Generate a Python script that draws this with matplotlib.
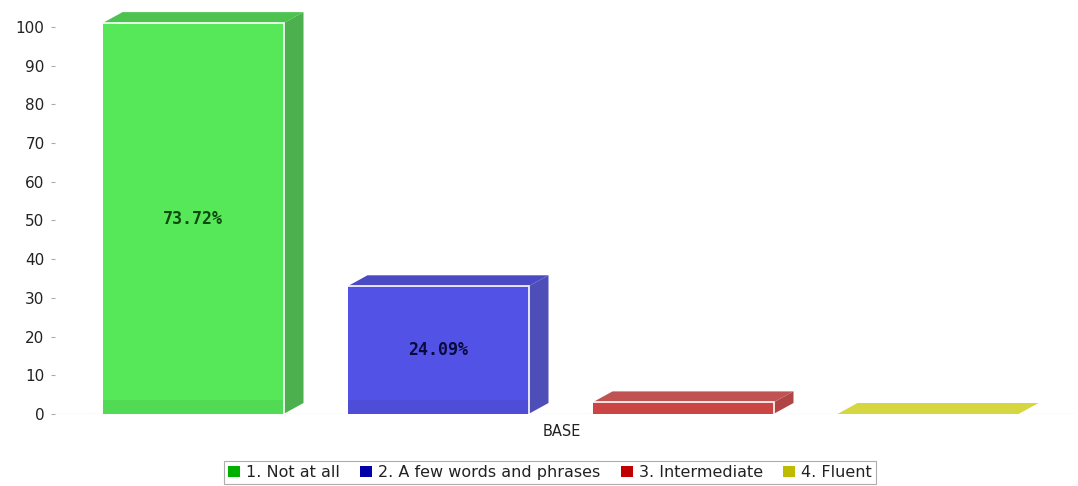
import matplotlib
matplotlib.use("Agg")
import matplotlib.pyplot as plt
from matplotlib.patches import Polygon, Rectangle, Patch

# data
categories = ["1. Not at all", "2. A few words and phrases", "3. Intermediate", "4. Fluent"]
counts = [101, 33, 3, 0]
group_label = "BASE"
yticks = [0, 10, 20, 30, 40, 50, 60, 70, 80, 90, 100]

# colours: front, top, side, legend swatch, label text
front_cols = ["#57e85a", "#5252e6", "#d84a4a", "#dada45"]
top_cols = ["#4cc24f", "#4a4ac4", "#c05252", "#d6d640"]
side_cols = ["#4db04f", "#4e4eb8", "#b04545", "#c0c040"]
legend_cols = ["#00b000", "#0000a8", "#c00000", "#bcbc00"]
text_cols = ["#0d4a0d", "#0a0a40", "#400a0a", "#40400a"]

W, H = 1078, 486
fig = plt.figure(figsize=(W / 100, H / 100), dpi=100)

ax_l, ax_r, ax_b, ax_t = 55, 1075, 414, 7
ax = fig.add_axes([ax_l / W, (H - ax_b) / H, (ax_r - ax_l) / W, (ax_b - ax_t) / H])

px_per_x = 245.0
x0_px = 193.0
xmin = (ax_l - x0_px) / px_per_x
xmax = (ax_r - x0_px) / px_per_x
px_per_y = 3.87
ymax = (ax_b - ax_t) / px_per_y
ax.set_xlim(xmin, xmax)
ax.set_ylim(0, ymax)

width = 181 / px_per_x
dx = 20 / px_per_x
dy = 11 / px_per_y

total = sum(counts)
for i, c in enumerate(counts):
    xl = i - width / 2
    xr = i + width / 2
    # side face
    ax.add_patch(Polygon([(xr, 0), (xr + dx, dy), (xr + dx, c + dy), (xr, c)],
                         closed=True, facecolor=side_cols[i], edgecolor="none", zorder=2))
    # top face
    ax.add_patch(Polygon([(xl, c), (xr, c), (xr + dx, c + dy), (xl + dx, c + dy)],
                         closed=True, facecolor=top_cols[i], edgecolor="none", zorder=2))
    # front face
    if c > 0:
        ax.add_patch(Rectangle((xl, 0), width, c, facecolor=front_cols[i],
                               edgecolor="none", zorder=3))
        band = min(3.5, c)
        ax.add_patch(Rectangle((xl, 0), width, band, facecolor="black", alpha=0.06,
                               edgecolor="none", zorder=3))
        ax.plot([xl, xr, xr], [c, c, 0], color="white", lw=1.2, zorder=4,
                solid_joinstyle="miter")
    pct = c / total * 100
    if pct > 5:
        ax.text(i, c / 2, f"{pct:.2f}%", ha="center", va="center", fontsize=12,
                fontweight="bold", family="DejaVu Sans Mono", color=text_cols[i], zorder=5)

# baseline
ax.axhline(0, color="#e2e2e2", lw=1, ls=(0, (2, 1)), zorder=1)

for s in ax.spines.values():
    s.set_visible(False)
ax.set_xticks([])
ax.set_yticks(yticks)
ax.set_yticklabels([str(t) for t in yticks], fontsize=11, color="#222222")
ax.tick_params(axis="y", length=3, width=0.8, color="#aaaaaa", pad=4.5)

ax.text(1.5 + (562 - (x0_px + 1.5 * px_per_x)) / px_per_x, -4.6, group_label,
        ha="center", va="center", fontsize=10.5, color="#222222")

handles = [Patch(facecolor=legend_cols[i], edgecolor="none", label=categories[i])
           for i in range(len(categories))]
leg = fig.legend(handles=handles, loc="upper center", bbox_to_anchor=(550 / W, 1 - 461 / H),
                 ncol=4, fontsize=11.5, frameon=True, fancybox=False, edgecolor="#999999",
                 handlelength=0.75, handleheight=0.75, handletextpad=0.35,
                 columnspacing=1.3, borderpad=0.25, borderaxespad=0)
leg.get_frame().set_linewidth(0.8)
for t in leg.get_texts():
    t.set_color("#222222")

fig.savefig("out.png", dpi=100)
